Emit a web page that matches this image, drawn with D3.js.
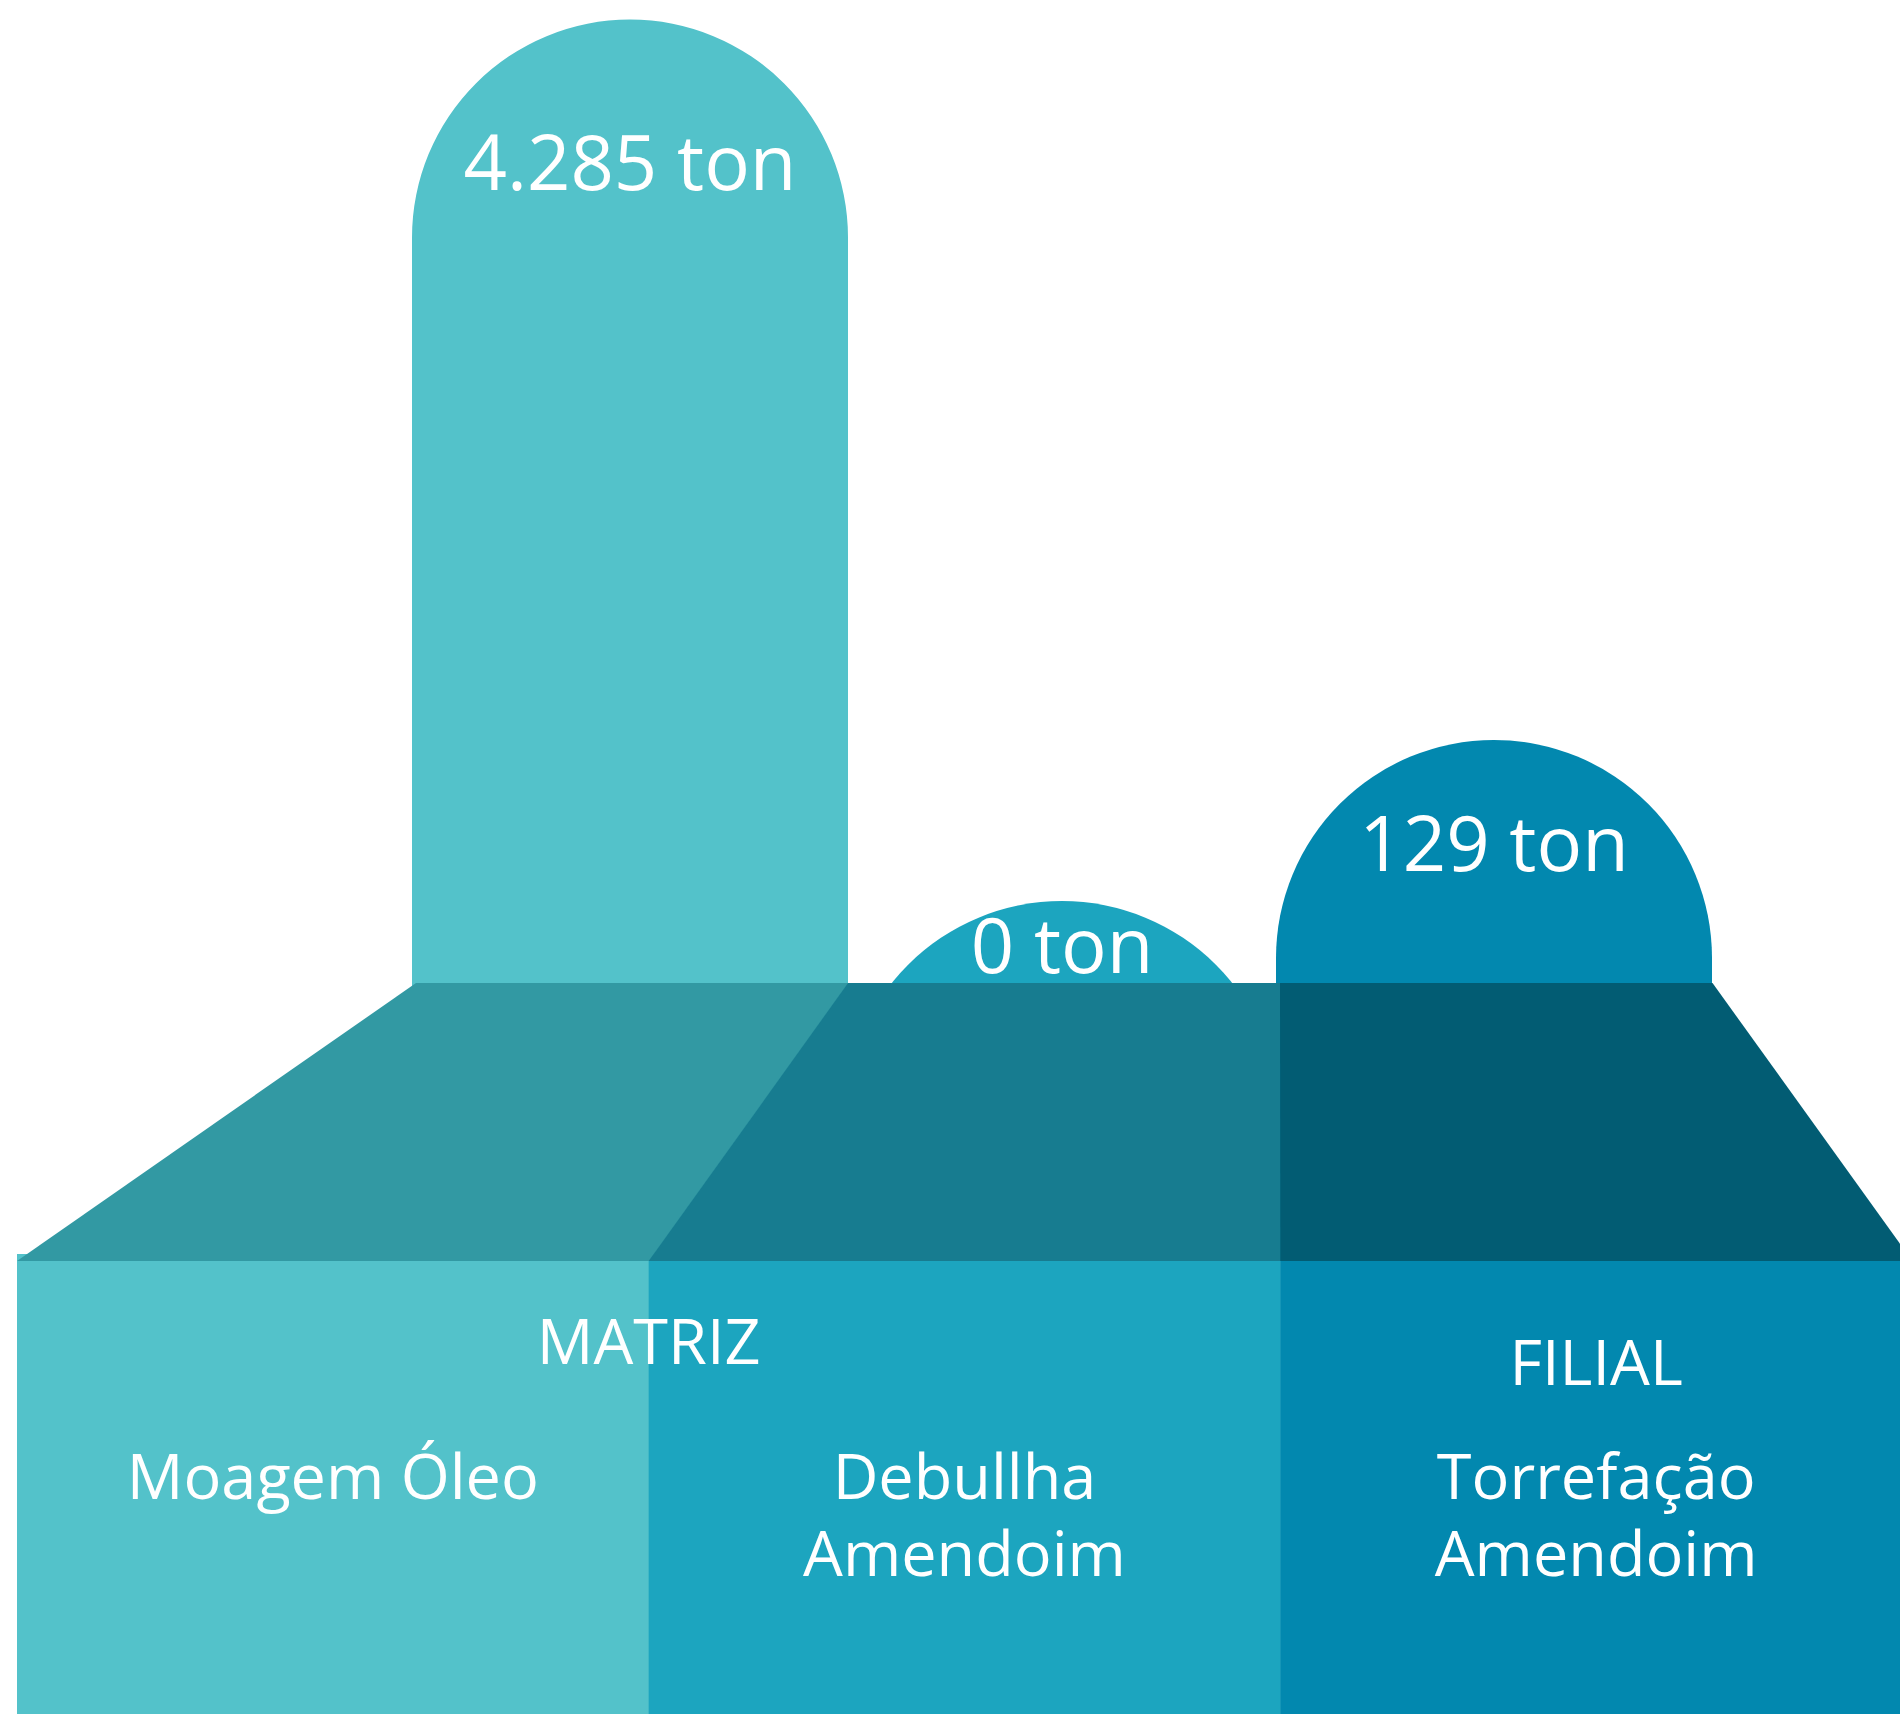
<!DOCTYPE html>
<html>
<head>
<meta charset="utf-8">
<script src="https://cdn.jsdelivr.net/npm/d3@7"></script>
<style>
  body { margin: 0; background: #fff; }
  svg text { font-family: "Open Sans", "Noto Sans", sans-serif; fill: #fff; }
</style>
</head>
<body>
<div id="Chart"></div>
<script>
// data
var categories = ["Moagem Óleo", "Debullha Amendoim", "Torrefação Amendoim"];
var catLines = [["Moagem Óleo"], ["Debullha", "Amendoim"], ["Torrefação", "Amendoim"]];
var groups = ["MATRIZ", "MATRIZ", "FILIAL"];
var values = [4285, 0, 129];
var unit = "ton";

// look
var barColors = ["#53c2ca", "#1ca5bf", "#0288af"];
var faceColors = ["#3299a3", "#177c90", "#025c73"];
var labelDrop = [170, 72, 131];
var groupDrop = {"MATRIZ": 0, "FILIAL": 21};

var width = 1900, height = 1714;
var faceTop = 983, faceBottom = 1261, frontTop = 1254;

var svg = d3.select("#Chart")
            .append("svg")
            .attr("width", width)
            .attr("height", height);

var ptBR = d3.formatLocale({decimal: ",", thousands: ".", grouping: [3], currency: ["R$", ""]});
var fmt = ptBR.format(",d");

// scales
var y = d3.scalePow().exponent(0.485)
          .domain([0, d3.max(values)])
          .range([faceTop - 82, 19.5]);
var xTop = d3.scaleBand().domain(categories).range([416, 1712]);
var xFront = d3.scaleBand().domain(categories).range([17, 1912]);

var barW = 436;
function barPath(d, i){
    var c = xTop(categories[i]) + xTop.bandwidth() / 2 - 2;
    var r = barW / 2, x0 = c - r, x1 = c + r, top = y(d);
    return "M" + x0 + "," + faceBottom +
           "L" + x0 + "," + (top + r) +
           "A" + r + "," + r + " 0 0 1 " + x1 + "," + (top + r) +
           "L" + x1 + "," + faceBottom + "Z";
}

// bars (behind the base)
svg.append("g").selectAll("path.bar")
   .data(values)
   .enter().append("path")
   .attr("class", "bar")
   .attr("d", barPath)
   .attr("fill", (d, i) => barColors[i]);

// front faces
svg.append("g").selectAll("rect.front")
   .data(categories)
   .enter().append("rect")
   .attr("class", "front")
   .attr("x", d => xFront(d))
   .attr("y", frontTop)
   .attr("width", xFront.bandwidth() + 0.5)
   .attr("height", height - frontTop)
   .attr("fill", (d, i) => barColors[i]);

// top faces
svg.append("g").selectAll("polygon.face")
   .data(categories)
   .enter().append("polygon")
   .attr("class", "face")
   .attr("points", d => [
        [xTop(d), faceTop],
        [xTop(d) + xTop.bandwidth() + 0.5, faceTop],
        [xFront(d) + xFront.bandwidth() + 0.5, faceBottom],
        [xFront(d), faceBottom]
   ].join(" "))
   .attr("fill", (d, i) => faceColors[i]);

// value labels
svg.append("g").selectAll("text.value")
   .data(values)
   .enter().append("text")
   .attr("class", "value")
   .attr("x", (d, i) => xTop(categories[i]) + xTop.bandwidth() / 2 - 2)
   .attr("y", (d, i) => y(d) + labelDrop[i])
   .attr("text-anchor", "middle")
   .style("font-size", "76px")
   .text(d => fmt(d) + " " + unit);

// group labels
var groupNames = Array.from(new Set(groups));
svg.append("g").selectAll("text.group")
   .data(groupNames)
   .enter().append("text")
   .attr("class", "group")
   .attr("x", g => {
        var cs = categories.filter((c, i) => groups[i] === g);
        var x0 = xFront(cs[0]), x1 = xFront(cs[cs.length - 1]) + xFront.bandwidth();
        return (x0 + x1) / 2;
   })
   .attr("y", g => 1364 + groupDrop[g])
   .attr("text-anchor", "middle")
   .style("font-size", "63px")
   .text(g => g);

// category labels
var cat = svg.append("g").selectAll("text.cat")
   .data(categories)
   .enter().append("text")
   .attr("class", "cat")
   .attr("text-anchor", "middle")
   .attr("y", 1499)
   .style("font-size", "63px");

cat.selectAll("tspan")
   .data((d, i) => catLines[i].map(t => ({t: t, x: xFront(d) + xFront.bandwidth() / 2})))
   .enter().append("tspan")
   .attr("x", d => d.x)
   .attr("dy", (d, j) => j === 0 ? 0 : 77)
   .text(d => d.t);
</script>
</body>
</html>
